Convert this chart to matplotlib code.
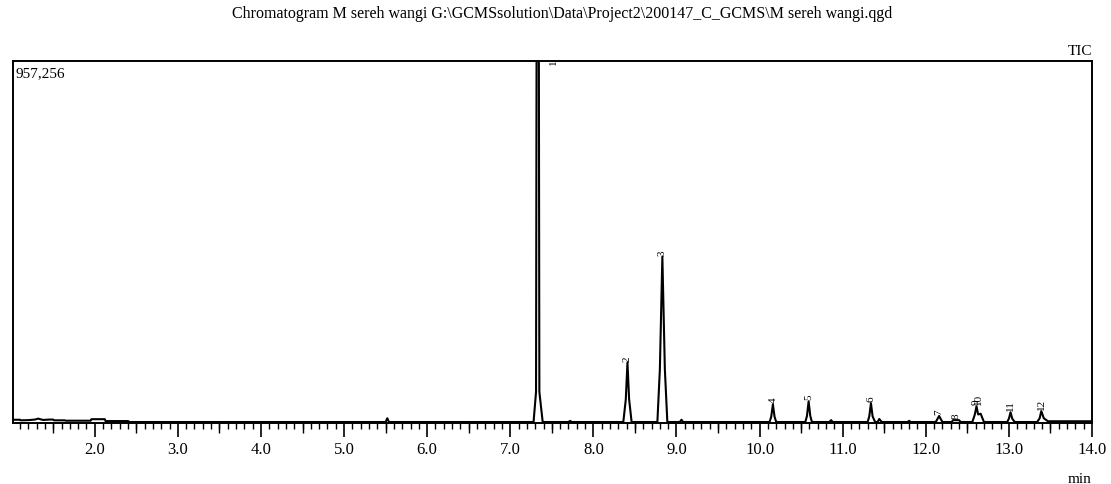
import matplotlib
matplotlib.use("Agg")
import matplotlib.pyplot as plt
from matplotlib.ticker import MultipleLocator, FormatStrFormatter

plt.rcParams['font.family'] = ['Liberation Serif', 'DejaVu Serif']

# TIC trace: retention time (min) and intensity (counts)
rt = [1.01, 1.10, 1.11, 1.20, 1.28, 1.32, 1.35, 1.38, 1.45, 1.50, 1.51, 1.64, 1.65,
      1.95, 1.96, 2.12, 2.13, 2.40, 2.42, 5.50, 5.52, 5.54,
      7.28, 7.31, 7.33, 7.35, 7.39,
      7.70, 7.72, 7.74,
      8.36, 8.39, 8.41, 8.43, 8.46,
      8.77, 8.80, 8.83, 8.86, 8.89,
      9.04, 9.06, 9.08,
      10.12, 10.14, 10.16, 10.18, 10.20,
      10.55, 10.57, 10.59, 10.61, 10.63,
      10.84, 10.86, 10.88,
      11.30, 11.32, 11.34, 11.36, 11.39, 11.42, 11.44, 11.47,
      11.78, 11.80, 11.82,
      12.12, 12.16, 12.20,
      12.31, 12.33, 12.40, 12.42,
      12.56, 12.59, 12.61, 12.63, 12.66, 12.70,
      12.98, 13.00, 13.02, 13.04, 13.07,
      13.34, 13.37, 13.39, 13.42, 13.47, 13.55, 14.0]
intensity = [6000, 6000, 4500, 5000, 6500, 9000, 7000, 5500, 6500, 6500, 4500, 4500, 3500,
             3500, 7500, 7500, 2500, 2500, 0, 0, 10000, 0,
             0, 80000, 3000000, 80000, 0,
             0, 3000, 0,
             0, 60000, 158000, 60000, 0,
             0, 140000, 439000, 140000, 0,
             0, 6000, 0,
             0, 14000, 47000, 14000, 0,
             0, 16000, 55000, 16000, 0,
             0, 5000, 0,
             0, 15000, 50000, 15000, 0, 0, 8000, 0,
             0, 3000, 0,
             0, 16000, 0,
             0, 5000, 5000, 0,
             0, 20000, 42000, 20000, 22000, 0,
             0, 9000, 26000, 9000, 0,
             0, 10000, 29000, 10000, 2000, 2000, 2000]

# peak labels (number, retention time, apex intensity)
peak_no = ['2', '3', '4', '5', '6', '7', '8', '9', '10', '11', '12']
peak_rt = [8.41, 8.83, 10.16, 10.59, 11.34, 12.16, 12.37, 12.60, 12.64, 13.02, 13.39]
peak_top = [158000, 439000, 47000, 55000, 50000, 16000, 5000, 42000, 42000, 26000, 29000]

y_max = 957256

fig = plt.figure(figsize=(11.11, 4.85), dpi=100)
ax = fig.add_axes([12.5 / 1111, 1 - 424 / 485, (1092 - 12.5) / 1111, (424 - 62) / 485])

ax.plot(rt, intensity, color='black', lw=1.5)

for n, x, h in zip(peak_no, peak_rt, peak_top):
    ax.text(x, h + 5000, n, rotation=90, ha='center', va='bottom', fontsize=8)

# label of peak 1 is cut by the frame
ax.text(7.52, y_max - 9000, '1', rotation=90, ha='center', va='bottom',
        fontsize=8, clip_on=True)

ax.set_xlim(1.01, 14.0)
ax.set_ylim(-2600, y_max)

ax.xaxis.set_major_locator(MultipleLocator(1.0))
ax.xaxis.set_minor_locator(MultipleLocator(0.1))
ax.xaxis.set_major_formatter(FormatStrFormatter('%.1f'))
ax.tick_params(axis='x', which='major', length=10, width=1.2, labelsize=12, pad=3)
ax.tick_params(axis='x', which='minor', length=4.5, width=1.0)
ax.set_yticks([])

half = ax.secondary_xaxis('bottom')
half.set_xticks([v + 0.5 for v in range(1, 14)])
half.tick_params(length=7, width=1.0, labelbottom=False)
half.spines['bottom'].set_visible(False)

for s in ax.spines.values():
    s.set_linewidth(1.4)

ax.text(0.003, 0.985, '957,256', transform=ax.transAxes, ha='left', va='top', fontsize=11)
ax.text(1.0, 1.01, 'TIC', transform=ax.transAxes, ha='right', va='bottom', fontsize=11)
ax.text(1.0, -0.135, 'min', transform=ax.transAxes, ha='right', va='top', fontsize=11)

fig.text(0.5056, 0.972,
         'Chromatogram M sereh wangi G:\\GCMSsolution\\Data\\Project2\\200147_C_GCMS\\M sereh wangi.qgd',
         ha='center', va='center', fontsize=11.5)

fig.savefig('out.png', dpi=100)
